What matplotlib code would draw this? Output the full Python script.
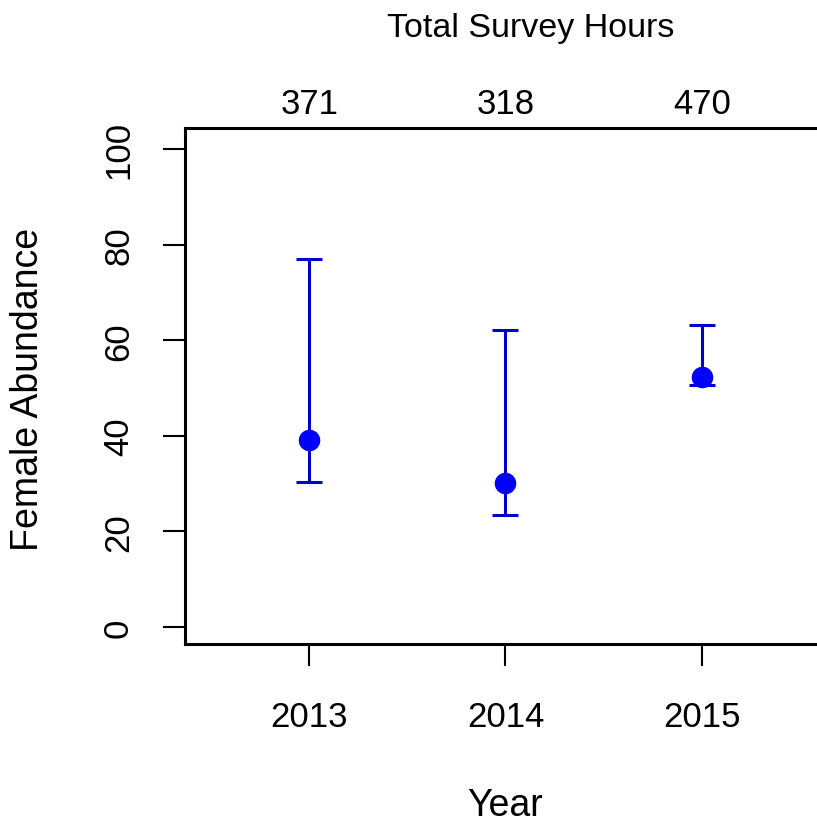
import matplotlib
matplotlib.use("Agg")
import matplotlib.pyplot as plt

years = [2013, 2014, 2015]
estimate = [39.1, 30.1, 52.3]
lower = [30.3, 23.4, 50.6]
upper = [77.0, 62.1, 63.2]
hours = ["371", "318", "470"]
yticks = [0, 20, 40, 60, 80, 100]

plt.rcParams['font.family'] = ['Liberation Sans', 'DejaVu Sans']

W, H = 817, 828
fig = plt.figure(figsize=(W / 100, H / 100), dpi=100)
left, right, top, bottom = 185, 826, 129, 645
ax = fig.add_axes([left / W, 1 - bottom / H, (right - left) / W, (bottom - top) / H])

err_lo = [e - l for e, l in zip(estimate, lower)]
err_hi = [u - e for u, e in zip(upper, estimate)]
ax.errorbar(years, estimate, yerr=[err_lo, err_hi], fmt='none',
            ecolor='#0000CD', elinewidth=2.2, capsize=9.5, capthick=2.2, zorder=2)
ax.plot(years, estimate, 'o', color='#0000FF', markersize=14.5, zorder=3)

ax.set_xlim(2012.367, 2015.633)
ax.set_ylim(-3.56, 104.4)
ax.set_xticks(years)
ax.set_xticklabels([str(y) for y in years])
ax.set_yticks(yticks)
ax.set_yticklabels([str(t) for t in yticks], rotation=90, va='center')

for s in ax.spines.values():
    s.set_linewidth(2.2)
    s.set_color('black')

ax.tick_params(axis='x', length=16, width=1.5, pad=24, labelsize=25)
ax.tick_params(axis='y', length=16, width=1.5, pad=20, labelsize=25)

sec = ax.secondary_xaxis('top')
sec.set_xticks(years)
sec.set_xticklabels(hours)
sec.tick_params(length=0, pad=6, labelsize=25)
sec.spines['top'].set_visible(False)

fig.text(505 / W, 1 - 806 / H, "Year", ha='center', va='center', fontsize=27)
fig.text(531 / W, 1 - 28 / H, "Total Survey Hours", ha='center', va='center', fontsize=24.5)
fig.text(28 / W, 1 - 389 / H, "Female Abundance", ha='center', va='center',
         rotation=90, fontsize=27)

fig.savefig("out.png", dpi=100)
